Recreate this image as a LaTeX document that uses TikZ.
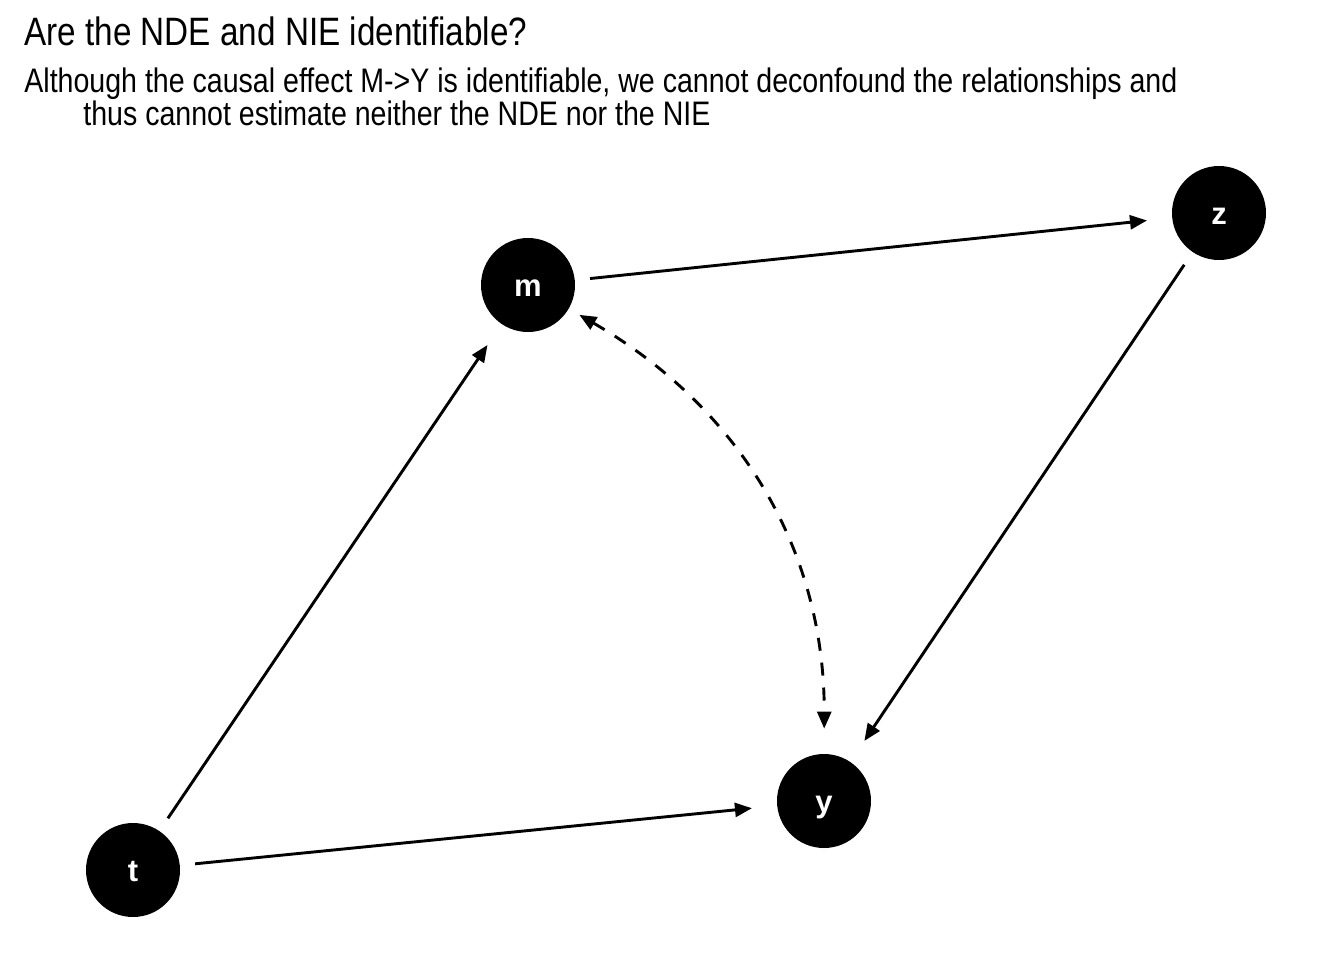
\documentclass[tikz,border=0pt]{standalone}
\usepackage{fontspec}
\setmainfont[FakeStretch=0.84]{Liberation Sans}
\newfontfamily\labelfont{Liberation Sans}
\usepackage{tikz}
\usetikzlibrary{arrows.meta}

\begin{document}
\begin{tikzpicture}[x=0.5pt,y=-0.5pt,
  dagnode/.style={circle,fill=black,minimum size=47pt,inner sep=0pt,
    text=white,text height=11pt,text depth=0pt,font=\labelfont\bfseries\fontsize{15.5pt}{15.5pt}\selectfont},
  dagedge/.style={line width=1.45pt,-{Triangle[length=8.5pt,width=7pt]},
    shorten <=7.5pt,shorten >=12.5pt},
  headline/.style={anchor=base west,inner sep=0pt}]
\useasboundingbox (0,0) rectangle (1344,960);
\node[headline,font=\fontsize{19.8pt}{19.8pt}\selectfont] (title) at (24,45) {Are the NDE and NIE identifiable?};
\node[headline,font=\fontsize{17pt}{17pt}\selectfont] (sub1) at (24,92) {Although the causal effect M->Y is identifiable, we cannot deconfound the relationships and};
\node[headline,font=\fontsize{17pt}{17pt}\selectfont] (sub2) at (83,125) {thus cannot estimate neither the NDE nor the NIE};
\node[dagnode] (m) at (528,285) {m};
\node[dagnode] (z) at (1219,213) {z};
\node[dagnode] (y) at (824,801) {y};
\node[dagnode] (t) at (133,870) {t};
\draw[dagedge] (t) -- (m);
\draw[dagedge] (m) -- (z);
\draw[dagedge] (z) -- (y);
\draw[dagedge] (t) -- (y);
% bidirected
\draw[dagedge,{Triangle[length=8.5pt,width=7pt]}-{Triangle[length=8.5pt,width=7pt]},
  shorten <=6pt,dash pattern=on 6.5pt off 6pt] (m) to[bend left=30] (y);
\end{tikzpicture}
\end{document}
